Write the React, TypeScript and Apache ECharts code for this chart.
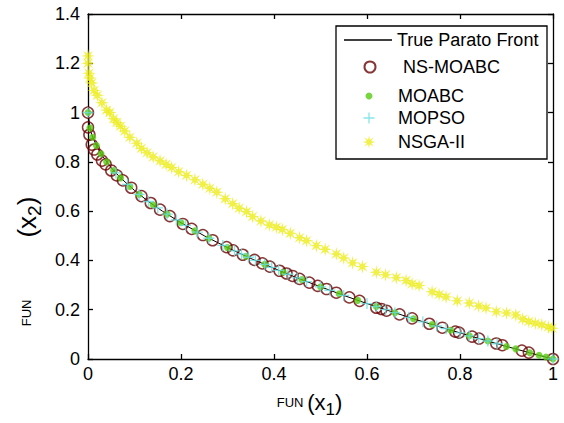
import React, { useEffect, useRef } from "react";
import * as echarts from "echarts";

const xTicks = [0, 0.2, 0.4, 0.6, 0.8, 1];
const yTicks = [0, 0.2, 0.4, 0.6, 0.8, 1, 1.2, 1.4];

const seriesNames = ["True Parato Front", "NS-MOABC", "MOABC", "MOPSO", "NSGA-II"];

const frontX = [0, 0.005, 0.01, 0.02, 0.03, 0.05, 0.07, 0.1, 0.13, 0.16, 0.2, 0.25, 0.3, 0.35, 0.4, 0.45, 0.5, 0.55, 0.6, 0.65, 0.7, 0.75, 0.8, 0.85, 0.9, 0.95, 1];
const frontY = [1, 0.929, 0.9, 0.859, 0.827, 0.776, 0.735, 0.684, 0.639, 0.6, 0.553, 0.5, 0.452, 0.408, 0.368, 0.329, 0.293, 0.258, 0.225, 0.194, 0.163, 0.134, 0.106, 0.078, 0.051, 0.025, 0];

const nsX = [0, 0, 0.003, 0.008, 0.013, 0.02, 0.03, 0.038, 0.05, 0.062, 0.075, 0.093, 0.115, 0.135, 0.155, 0.176, 0.204, 0.223, 0.247, 0.268, 0.298, 0.312, 0.333, 0.358, 0.375, 0.391, 0.412, 0.427, 0.44, 0.455, 0.476, 0.494, 0.513, 0.534, 0.562, 0.584, 0.62, 0.631, 0.642, 0.67, 0.697, 0.734, 0.762, 0.79, 0.798, 0.826, 0.841, 0.878, 0.891, 0.933, 0.948, 1];
const nsY = [1, 0.94, 0.91, 0.87, 0.85, 0.83, 0.805, 0.79, 0.765, 0.745, 0.725, 0.695, 0.661, 0.633, 0.606, 0.58, 0.548, 0.528, 0.503, 0.482, 0.454, 0.441, 0.423, 0.402, 0.388, 0.375, 0.358, 0.347, 0.337, 0.325, 0.31, 0.297, 0.284, 0.269, 0.25, 0.236, 0.208, 0.203, 0.196, 0.181, 0.165, 0.143, 0.127, 0.111, 0.107, 0.091, 0.083, 0.063, 0.056, 0.034, 0.026, 0];

const moabcX = [0, 0.004, 0.01, 0.018, 0.028, 0.04, 0.055, 0.07, 0.09, 0.11, 0.14, 0.17, 0.2, 0.23, 0.26, 0.3, 0.34, 0.38, 0.42, 0.46, 0.5, 0.54, 0.58, 0.62, 0.66, 0.7, 0.74, 0.78, 0.82, 0.86, 0.9, 0.92, 0.95, 0.97, 0.985, 1];
const moabcY = [1, 0.937, 0.9, 0.866, 0.833, 0.8, 0.765, 0.735, 0.7, 0.668, 0.626, 0.588, 0.553, 0.52, 0.49, 0.452, 0.417, 0.384, 0.352, 0.322, 0.293, 0.265, 0.238, 0.213, 0.188, 0.163, 0.14, 0.117, 0.094, 0.073, 0.051, 0.041, 0.025, 0.015, 0.008, 0];

const mopsoX = [0, 0.06, 0.085, 0.11, 0.13, 0.15, 0.17, 0.19, 0.21, 0.235, 0.26, 0.29, 0.315, 0.33, 0.345, 0.36, 0.38, 0.395, 0.41, 0.43, 0.45, 0.47, 0.5, 0.52, 0.55, 0.6, 0.62, 0.64, 0.66, 0.69, 0.72, 0.75, 0.77, 0.8, 0.82, 0.84, 0.86, 0.88, 1];
const mopsoY = [1, 0.755, 0.708, 0.668, 0.639, 0.613, 0.588, 0.564, 0.542, 0.515, 0.49, 0.461, 0.439, 0.426, 0.413, 0.4, 0.384, 0.372, 0.36, 0.344, 0.329, 0.314, 0.293, 0.279, 0.258, 0.225, 0.213, 0.2, 0.188, 0.169, 0.151, 0.134, 0.123, 0.106, 0.094, 0.083, 0.073, 0.062, 0];

const nsgaX = [0, 0, 0.002, 0.004, 0.008, 0.013, 0.02, 0.03, 0.04, 0.047, 0.055, 0.062, 0.07, 0.079, 0.09, 0.105, 0.115, 0.127, 0.14, 0.155, 0.168, 0.18, 0.195, 0.212, 0.23, 0.247, 0.262, 0.277, 0.295, 0.311, 0.325, 0.341, 0.354, 0.372, 0.39, 0.405, 0.418, 0.435, 0.455, 0.47, 0.491, 0.51, 0.534, 0.55, 0.569, 0.59, 0.62, 0.64, 0.663, 0.684, 0.697, 0.712, 0.74, 0.755, 0.77, 0.794, 0.82, 0.84, 0.856, 0.878, 0.9, 0.92, 0.935, 0.948, 0.962, 0.976, 0.99, 0.998];
const nsgaY = [1.23, 1.2, 1.16, 1.14, 1.12, 1.09, 1.07, 1.04, 1.01, 1.0, 0.975, 0.96, 0.945, 0.925, 0.9, 0.876, 0.855, 0.837, 0.82, 0.804, 0.79, 0.777, 0.76, 0.745, 0.727, 0.709, 0.693, 0.677, 0.65, 0.63, 0.612, 0.598, 0.578, 0.56, 0.544, 0.535, 0.526, 0.51, 0.492, 0.48, 0.46, 0.445, 0.426, 0.41, 0.39, 0.375, 0.352, 0.342, 0.33, 0.319, 0.305, 0.298, 0.273, 0.262, 0.252, 0.236, 0.227, 0.215, 0.207, 0.192, 0.187, 0.179, 0.162, 0.152, 0.145, 0.139, 0.13, 0.125];

const pair = (xs: number[], ys: number[]) => xs.map((x, i) => [x, ys[i]]);

const starPath = (() => {
  let d = "";
  for (let i = 0; i < 16; i++) {
    const a = (i * Math.PI) / 8 - Math.PI / 2;
    const r = i % 2 === 0 ? 10 : 3.6;
    const px = (r * Math.cos(a)).toFixed(2);
    const py = (r * Math.sin(a)).toFixed(2);
    d += (i === 0 ? "M" : "L") + px + "," + py;
  }
  return "path://" + d + "Z";
})();

const plusPath = "path://M-1.2,-10L1.2,-10L1.2,-1.2L10,-1.2L10,1.2L1.2,1.2L1.2,10L-1.2,10L-1.2,1.2L-10,1.2L-10,-1.2L-1.2,-1.2Z";

const FONT = "'Liberation Sans', Arial, sans-serif";
const AX = "#000";

const legendCenters = [41, 68, 97, 119, 143];
const legendSizes = [1.5, 11, 7, 11, 13];
const legendTextX = [397, 402, 398, 398, 398];

export default function App() {
  const ref = useRef<HTMLDivElement>(null);
  useEffect(() => {
    if (!ref.current) return;
    const chart = echarts.init(ref.current, undefined, { renderer: "svg" });
    const fmt = (v: number) => String(Math.round(v * 10) / 10);
    const axisLine = { show: true, onZero: false, lineStyle: { color: AX, width: 1.3 } };
    const axisTick = { show: true, inside: true, length: 5, lineStyle: { color: AX, width: 1.3 } };
    const option: any = {
      animation: false,
      backgroundColor: "#fff",
      grid: { left: 88, right: 11, top: 14, bottom: 58, containLabel: false },
      xAxis: [
        {
          type: "value", min: xTicks[0], max: xTicks[xTicks.length - 1], interval: 0.2, position: "bottom",
          axisLine, axisTick, splitLine: { show: false },
          axisLabel: { fontSize: 18, color: "#000", fontFamily: FONT, margin: 6, formatter: fmt },
          name: "{a|FUN }{b|(x}{c|1}{b|)}", nameLocation: "middle", nameGap: 28,
          nameTextStyle: {
            color: "#000", fontFamily: FONT, padding: [0, 22, 0, 0],
            rich: {
              a: { fontSize: 13, fontFamily: FONT, color: "#000" },
              b: { fontSize: 22, fontFamily: FONT, color: "#000" },
              c: { fontSize: 17, fontFamily: FONT, color: "#000", padding: [14, 0, 0, 0] },
            },
          },
        },
        {
          type: "value", min: xTicks[0], max: xTicks[xTicks.length - 1], interval: 0.2, position: "top",
          axisLine, axisTick, splitLine: { show: false }, axisLabel: { show: false },
        },
      ],
      yAxis: [
        {
          type: "value", min: yTicks[0], max: yTicks[yTicks.length - 1], interval: 0.2, position: "left",
          axisLine, axisTick, splitLine: { show: false },
          axisLabel: { fontSize: 18, color: "#000", fontFamily: FONT, margin: 8, formatter: fmt },
          name: "{a|FUN}{sp| }{b|(x}{c|2}{b|)}", nameLocation: "middle", nameGap: 42,
          nameTextStyle: {
            color: "#000", fontFamily: FONT, padding: [0, 150, 0, 0],
            rich: {
              a: { fontSize: 13, fontFamily: FONT, color: "#000" },
              sp: { width: 62 },
              b: { fontSize: 26, fontFamily: FONT, color: "#000" },
              c: { fontSize: 19, fontFamily: FONT, color: "#000", padding: [16, 0, 0, 0] },
            },
          },
        },
        {
          type: "value", min: yTicks[0], max: yTicks[yTicks.length - 1], interval: 0.2, position: "right",
          axisLine, axisTick, splitLine: { show: false }, axisLabel: { show: false },
        },
      ],
      legend: seriesNames.map((n, i) => {
        const s = legendSizes[i];
        const w = i === 0 ? 48 : s;
        const left = i === 0 ? 344 : 369 - s / 2;
        return {
          data: i === 0 ? [{ name: n, icon: "rect" }] : [n],
          left,
          top: legendCenters[i] - 10,
          itemWidth: w,
          itemHeight: s,
          padding: 0,
          selectedMode: false,
          textStyle: {
            fontSize: 18, fontFamily: FONT, color: "#000",
            padding: [0, 0, 0, Math.max(0, legendTextX[i] - (left + w + 5))],
          },
        };
      }),
      graphic: [
        {
          type: "rect", z: 3,
          shape: { x: 336, y: 26, width: 211, height: 133 },
          style: { fill: "#fff", stroke: "#000", lineWidth: 1.3 },
        },
      ],
      series: [
        {
          name: seriesNames[0], type: "line", data: pair(frontX, frontY), symbol: "none",
          lineStyle: { color: "#000", width: 1 }, itemStyle: { color: "#000" }, z: 2,
        },
        {
          name: seriesNames[1], type: "scatter", data: pair(nsX, nsY), symbol: "circle", symbolSize: 11,
          itemStyle: { color: "rgba(255,255,255,0)", borderColor: "#6a0404", borderWidth: 1.5 }, z: 3,
        },
        {
          name: seriesNames[2], type: "scatter", data: pair(moabcX, moabcY), symbol: "circle", symbolSize: 7,
          itemStyle: { color: "#58cc12" }, z: 4,
        },
        {
          name: seriesNames[3], type: "scatter", data: pair(mopsoX, mopsoY), symbol: plusPath, symbolSize: 11,
          itemStyle: { color: "#6be0e0" }, z: 5,
        },
        {
          name: seriesNames[4], type: "scatter", data: pair(nsgaX, nsgaY), symbol: starPath, symbolSize: 14,
          itemStyle: { color: "#ecec1a" }, z: 6,
        },
      ],
    };
    chart.setOption(option);
    return () => chart.dispose();
  }, []);
  return <div ref={ref} style={{ width: 564, height: 423, position: "fixed", left: 0, top: 0, background: "#fff" }} />;
}
